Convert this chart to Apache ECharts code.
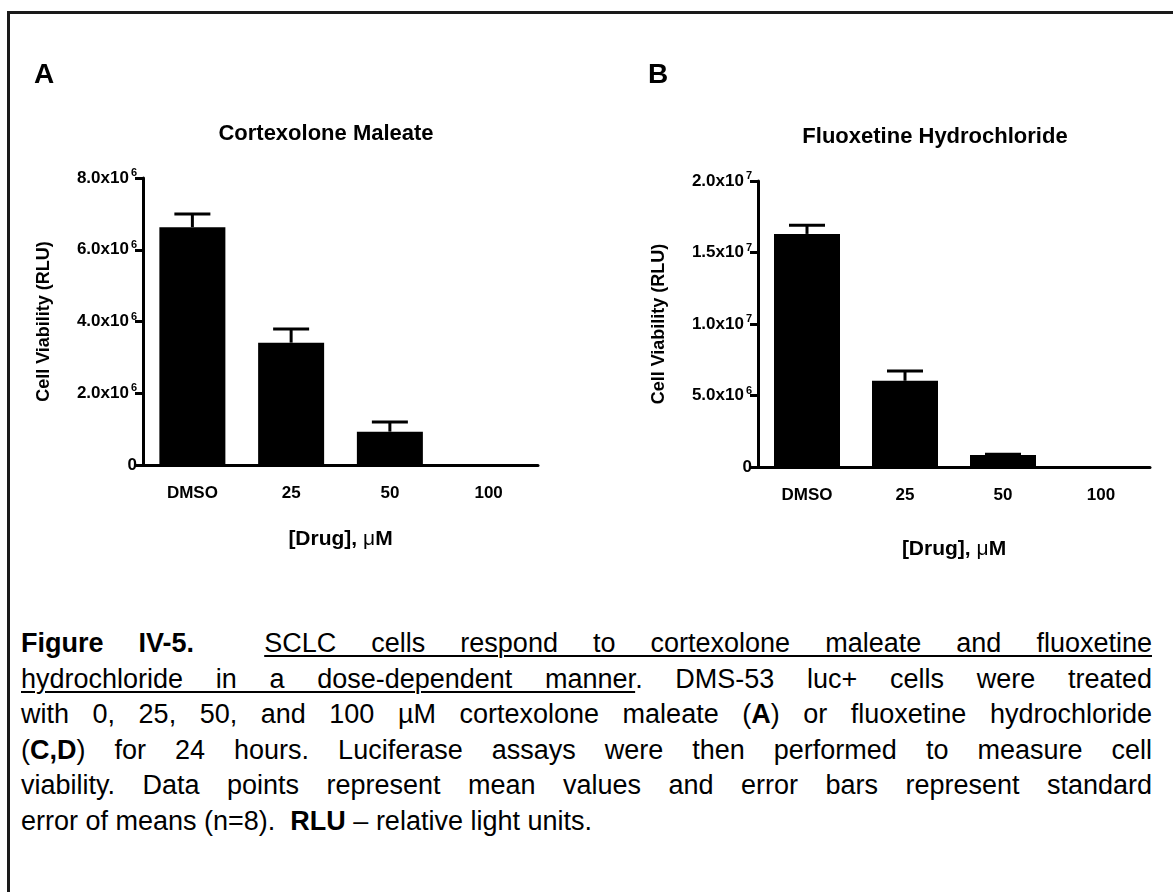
<!DOCTYPE html>
<html>
<head>
<meta charset="utf-8">
<script src="https://cdn.jsdelivr.net/npm/echarts@6/dist/echarts.min.js"></script>
<style>
    body { margin: 0; background: #fff; }
    #frame {
        position: absolute; left: 7px; top: 11px; width: 1200px; height: 1000px;
        border: 3px solid #1a1a1a;
    }
    #chart { position: absolute; left: 0; top: 0; width: 1173px; height: 600px; }
    #caption {
        position: absolute; left: 21px; top: 626px; width: 1131px;
        font-family: 'Liberation Sans', Arial, sans-serif; font-size: 27px; line-height: 35.6px; color: #000;
    }
    .ln { text-align: justify; text-align-last: justify; white-space: nowrap; }
    .ln.last { text-align-last: left; }
    u { text-decoration-thickness: 2px; text-underline-offset: 3px; }
</style>
</head>
<body>
<div id="frame"></div>
<div id="chart"></div>
<div id="caption">
    <div class="ln"><b>Figure IV-5.</b>&nbsp; <u>SCLC cells respond to cortexolone maleate and fluoxetine</u></div>
    <div class="ln"><u>hydrochloride in a dose-dependent manner</u>. DMS-53 luc+ cells were treated</div>
    <div class="ln">with 0, 25, 50, and 100 µM cortexolone maleate (<b>A</b>) or fluoxetine hydrochloride</div>
    <div class="ln">(<b>C,D</b>) for 24 hours. Luciferase assays were then performed to measure cell</div>
    <div class="ln">viability. Data points represent mean values and error bars represent standard</div>
    <div class="ln last">error of means (n=8).&nbsp; <b>RLU</b> – relative light units.</div>
</div>

<script>
    // doses
    var categories = ['DMSO', '25', '50', '100'];
    // A - cortexolone maleate
    var cortexMean = [6.63e6, 3.41e6, 0.93e6, 0];
    var cortexSem = [0.37e6, 0.38e6, 0.27e6, 0];
    // B - fluoxetine hydrochloride
    var fluoxMean = [1.63e7, 6.03e6, 0.84e6, 0];
    var fluoxSem = [0.06e7, 0.68e6, 0.05e6, 0];
    // y tick labels (mantissa^exponent)
    var yTicksA = ['0', '2.0x10^6', '4.0x10^6', '6.0x10^6', '8.0x10^6'];
    var yTicksB = ['0', '5.0x10^6', '1.0x10^7', '1.5x10^7', '2.0x10^7'];

    var FONT = "'Liberation Sans', Arial, sans-serif";

    function tickFormatter(ticks, step) {
        return function (v) {
            var s = ticks[Math.round(v / step)];
            if (s === undefined) return '';
            var p = s.split('^');
            return p.length > 1 ? '{b|' + p[0] + '}{s|' + p[1] + '}' : '{b|' + s + '}';
        };
    }

    function errData(mean, sem) {
        var out = [];
        for (var i = 0; i < mean.length; i++) out.push([i, mean[i], sem[i]]);
        return out;
    }

    function renderErr(params, api) {
        if (!api.value(2)) return null;
        var base = api.coord([api.value(0), api.value(1)]);
        var top = api.coord([api.value(0), api.value(1) + api.value(2)]);
        var half = 18;
        var st = { stroke: '#000', lineWidth: 3 };
        return {
            type: 'group',
            children: [
                { type: 'line', shape: { x1: top[0], y1: base[1], x2: top[0], y2: top[1] }, style: st },
                { type: 'line', shape: { x1: top[0] - half, y1: top[1], x2: top[0] + half, y2: top[1] }, style: st }
            ]
        };
    }

    function yAxis(idx, max, step, ticks) {
        return {
            gridIndex: idx, type: 'value', min: 0, max: max, interval: step,
            name: 'Cell Viability (RLU)', nameLocation: 'middle', nameGap: 90,
            nameTextStyle: { fontFamily: FONT, fontWeight: 'bold', fontSize: 18, color: '#000' },
            axisLine: { show: true, lineStyle: { color: '#000', width: 3 } },
            axisTick: { show: true, length: 8, lineStyle: { color: '#000', width: 3 } },
            splitLine: { show: false },
            axisLabel: {
                margin: 6, formatter: tickFormatter(ticks, step),
                rich: {
                    b: { fontFamily: FONT, fontWeight: 'bold', fontSize: 17, color: '#000' },
                    s: { fontFamily: FONT, fontWeight: 'bold', fontSize: 11, color: '#000', verticalAlign: 'top', padding: [0, 0, 10, 2] }
                }
            }
        };
    }

    function xAxis(idx, gap) {
        return {
            gridIndex: idx, type: 'category', data: categories,
            name: '[Drug], {m|μ}M', nameLocation: 'middle', nameGap: gap,
            nameTextStyle: {
                fontFamily: FONT, fontWeight: 'bold', fontSize: 21, color: '#000',
                rich: { m: { fontFamily: FONT, fontWeight: 'normal', fontSize: 21, color: '#000' } }
            },
            axisLine: { lineStyle: { color: '#000', width: 3 } },
            axisTick: { show: false },
            axisLabel: { margin: 20, fontFamily: FONT, fontWeight: 'bold', fontSize: 17, color: '#000' }
        };
    }

    var chart = echarts.init(document.getElementById('chart'));
    var option = {
        animation: false,
        grid: [
            { left: 143, top: 178, width: 395, height: 287 },
            { left: 758, top: 181, width: 392, height: 286 }
        ],
        xAxis: [xAxis(0, 64), xAxis(1, 72)],
        yAxis: [yAxis(0, 8e6, 2e6, yTicksA), yAxis(1, 2e7, 5e6, yTicksB)],
        graphic: [
            { type: 'text', x: 44, y: 75, style: { text: 'A', font: 'bold 28px ' + FONT, fill: '#000', textAlign: 'center', textVerticalAlign: 'middle' } },
            { type: 'text', x: 658, y: 75, style: { text: 'B', font: 'bold 28px ' + FONT, fill: '#000', textAlign: 'center', textVerticalAlign: 'middle' } },
            { type: 'text', x: 326, y: 134, style: { text: 'Cortexolone Maleate', font: 'bold 22px ' + FONT, fill: '#000', textAlign: 'center', textVerticalAlign: 'middle' } },
            { type: 'text', x: 935, y: 137, style: { text: 'Fluoxetine Hydrochloride', font: 'bold 22px ' + FONT, fill: '#000', textAlign: 'center', textVerticalAlign: 'middle' } }
        ],
        series: [
            { type: 'bar', xAxisIndex: 0, yAxisIndex: 0, data: cortexMean, barWidth: 66, itemStyle: { color: '#000' } },
            { type: 'custom', xAxisIndex: 0, yAxisIndex: 0, data: errData(cortexMean, cortexSem), renderItem: renderErr, z: 3 },
            { type: 'bar', xAxisIndex: 1, yAxisIndex: 1, data: fluoxMean, barWidth: 66, itemStyle: { color: '#000' } },
            { type: 'custom', xAxisIndex: 1, yAxisIndex: 1, data: errData(fluoxMean, fluoxSem), renderItem: renderErr, z: 3 }
        ]
    };
    chart.setOption(option);
</script>
</body>
</html>
